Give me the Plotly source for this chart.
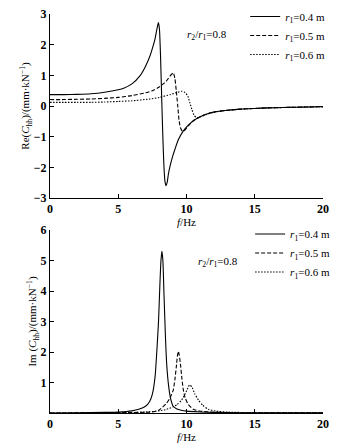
import plotly.graph_objects as go

# ---------------- data ----------------
f_re_04 = [0, 1, 2, 3, 4, 5, 5.4, 6, 6.6, 7.0, 7.33, 7.5, 7.7, 7.85, 7.94, 8.02, 8.1, 8.18,
           8.26, 8.34, 8.42, 8.5, 8.58, 8.68, 8.8, 9.0, 9.16, 9.4, 9.77, 10.1, 10.5, 11.0,
           11.5, 12, 13, 14, 15, 16, 17, 18, 19, 20]
re_04 = [0.37, 0.37, 0.38, 0.40, 0.45, 0.53, 0.58, 0.72, 0.99, 1.3, 1.64, 1.88, 2.2, 2.55, 2.72,
         2.5, 1.6, 0.3, -0.9, -1.9, -2.45, -2.6, -2.5, -2.2, -1.95, -1.62, -1.4, -1.1, -0.81,
         -0.64, -0.48, -0.35, -0.26, -0.2, -0.14, -0.1, -0.08, -0.06, -0.05, -0.04, -0.03, -0.02]

f_re_05 = [0, 1, 2, 3, 4, 5, 6, 7, 7.5, 8, 8.5, 8.8, 9.03, 9.15, 9.25, 9.35, 9.45, 9.55, 9.7,
           9.85, 10.1, 10.5, 11.0, 11.5, 12, 13, 14, 15, 16, 17, 18, 19, 20]
re_05 = [0.21, 0.21, 0.22, 0.23, 0.25, 0.28, 0.34, 0.43, 0.5, 0.62, 0.8, 0.98, 1.08, 0.9, 0.5,
         0.05, -0.45, -0.7, -0.82, -0.8, -0.66, -0.48, -0.35, -0.26, -0.2, -0.14, -0.1, -0.08,
         -0.06, -0.05, -0.04, -0.03, -0.02]

f_re_06 = [0, 1, 2, 3, 4, 5, 6, 7.33, 8, 8.8, 9.3, 9.65, 9.9, 10.1, 10.25, 10.4, 10.55, 10.75,
           11.0, 11.5, 12, 13, 14, 15, 16, 17, 18, 19, 20]
re_06 = [0.12, 0.12, 0.12, 0.12, 0.13, 0.15, 0.17, 0.23, 0.28, 0.37, 0.44, 0.48, 0.44, 0.32,
         0.1, -0.12, -0.3, -0.38, -0.36, -0.27, -0.2, -0.14, -0.1, -0.08, -0.06, -0.05, -0.04,
         -0.03, -0.02]

f_im_04 = [0, 2, 4, 5, 6, 6.5, 7.0, 7.3, 7.5, 7.7, 7.85, 7.95, 8.05, 8.13, 8.2, 8.27, 8.35,
           8.45, 8.55, 8.7, 8.85, 9.03, 9.3, 9.6, 10, 11, 12, 14, 17, 20]
im_04 = [0.0, 0.01, 0.02, 0.03, 0.07, 0.12, 0.22, 0.38, 0.62, 1.2, 2.2, 3.0, 4.2, 5.0, 5.3, 5.0,
         3.9, 2.6, 1.6, 0.85, 0.45, 0.22, 0.13, 0.09, 0.06, 0.035, 0.02, 0.01, 0.005, 0.003]

f_im_05 = [0, 3, 5, 6, 7, 7.6, 8.0, 8.5, 8.8, 9.03, 9.15, 9.25, 9.33, 9.4, 9.47, 9.57, 9.67,
           9.77, 9.9, 10.1, 10.5, 11, 12, 14, 20]
im_05 = [0.0, 0.005, 0.01, 0.015, 0.025, 0.04, 0.1, 0.3, 0.5, 0.75, 1.1, 1.5, 1.85, 2.02, 1.9,
         1.55, 1.1, 0.75, 0.5, 0.3, 0.12, 0.06, 0.025, 0.01, 0.003]

f_im_06 = [0, 4, 6, 7, 8, 8.55, 9.0, 9.3, 9.65, 9.9, 10.1, 10.22, 10.4, 10.6, 10.87, 11.2, 11.6,
           12.2, 13, 15, 20]
im_06 = [0.0, 0.005, 0.015, 0.03, 0.07, 0.12, 0.2, 0.27, 0.43, 0.62, 0.82, 0.92, 0.85, 0.63,
         0.43, 0.25, 0.12, 0.06, 0.03, 0.01, 0.003]

series_names = ["<i>r</i><sub>1</sub>=0.4 m", "<i>r</i><sub>1</sub>=0.5 m", "<i>r</i><sub>1</sub>=0.6 m"]
ratio_text = "<i>r</i><sub>2</sub>/<i>r</i><sub>1</sub>=0.8"
x_ticks = [0, 5, 10, 15, 20]
re_ticks = [-3, -2, -1, 0, 1, 2, 3]
im_ticks = [1, 2, 3, 4, 5, 6]

# ---------------- figure ----------------
FONT = "Liberation Serif, Times New Roman, serif"
dashes = ["solid", "4px,2px", "1.5px,1.5px"]

fig = go.Figure()
re_data = [(f_re_04, re_04), (f_re_05, re_05), (f_re_06, re_06)]
im_data = [(f_im_04, im_04), (f_im_05, im_05), (f_im_06, im_06)]

for (fx, fy), name, d in zip(re_data, series_names, dashes):
    fig.add_trace(go.Scatter(x=fx, y=fy, mode="lines", name=name,
                             line=dict(color="black", width=1.1, dash=d, shape="spline", smoothing=0.5),
                             xaxis="x", yaxis="y", legend="legend"))
for (fx, fy), name, d in zip(im_data, series_names, dashes):
    fig.add_trace(go.Scatter(x=fx, y=fy, mode="lines", name=name,
                             line=dict(color="black", width=1.1, dash=d, shape="spline", smoothing=0.5),
                             xaxis="x2", yaxis="y2", legend="legend2"))

axis_common = dict(showline=True, linecolor="black", linewidth=1, ticks="inside", ticklen=4,
                   tickcolor="black", showgrid=False, zeroline=False, automargin=False,
                   tickfont=dict(family=FONT, size=12, color="black", weight="bold"))

fig.update_layout(
    width=359, height=448,
    margin=dict(l=50, r=36, t=14, b=35, autoexpand=False),
    paper_bgcolor="white", plot_bgcolor="white",
    font=dict(family=FONT, size=11, color="black"),
    xaxis=dict(domain=[0, 1], range=[0, 20], tickvals=x_ticks, anchor="y",
               title=dict(text="<i>f</i>/Hz", standoff=2, font=dict(family=FONT, size=11)),
               **axis_common),
    yaxis=dict(domain=[0.5388, 1], range=[-3, 3], tickvals=re_ticks, anchor="x",
               ticktext=[str(v).replace("-", "\u2212") for v in re_ticks],
               title=dict(text="Re(<i>C</i><sub>hh</sub>)/(mm·kN<sup>\u22121</sup>)", standoff=0,
                          font=dict(family=FONT, size=11)),
               **axis_common),
    xaxis2=dict(domain=[0, 1], range=[0, 20], tickvals=x_ticks, anchor="y2",
                title=dict(text="<i>f</i>/Hz", standoff=2, font=dict(family=FONT, size=11)),
                **axis_common),
    yaxis2=dict(domain=[0, 0.4586], range=[0, 6], tickvals=im_ticks, anchor="x2",
                title=dict(text="Im (<i>C</i><sub>hh</sub>)/(mm·kN<sup>\u22121</sup>)", standoff=0,
                           font=dict(family=FONT, size=11)),
                **axis_common),
    legend=dict(x=0.715, y=1.03, xanchor="left", yanchor="top", bgcolor="rgba(0,0,0,0)",
                font=dict(family=FONT, size=11), itemwidth=30, tracegroupgap=0),
    legend2=dict(x=0.733, y=0.485, xanchor="left", yanchor="top", bgcolor="rgba(0,0,0,0)",
                 font=dict(family=FONT, size=11), itemwidth=30, tracegroupgap=0),
    annotations=[
        dict(text=ratio_text, x=11.5, y=2.3, xref="x", yref="y", showarrow=False,
             font=dict(family=FONT, size=11)),
        dict(text=ratio_text, x=12.3, y=4.95, xref="x2", yref="y2", showarrow=False,
             font=dict(family=FONT, size=11)),
    ],
)

fig.write_html("out.html", config={"displayModeBar": False},
               post_script="document.body.style.margin='0';document.body.style.padding='0';")
